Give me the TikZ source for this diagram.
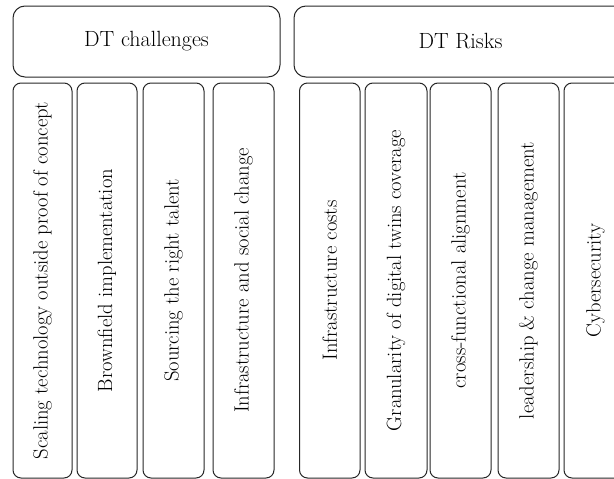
\documentclass[tikz,border=0pt]{standalone}
\begin{document}
\begin{tikzpicture}[x=1pt,y=-1pt,
  head/.style={draw=black!85, line width=1pt, rounded corners=12pt, inner sep=0pt,
    minimum height=71pt, text=black, font=\fontsize{22}{26}\selectfont},
  item/.style={draw=black!85, line width=1pt, rounded corners=8pt, inner sep=0pt,
    rotate=90, minimum width=395pt, text=black, font=\fontsize{20.6}{24}\selectfont}]
\useasboundingbox (0,0) rectangle (614,479);
\clip (0,0) rectangle (614,479);
\node[head, minimum width=267pt] (chal) at (146.5,41.5) {DT challenges};
\node[head, minimum width=333pt] (risk) at (460.5,41.5) {DT Risks};
\node[item, minimum height=59pt] (c1) at (42.5,280.5) {Scaling technology outside proof of concept};
\node[item, minimum height=60pt] (c2) at (107,280.5) {Brownfield implementation};
\node[item, minimum height=61pt] (c3) at (173.5,280.5) {Sourcing the right talent};
\node[item, minimum height=61pt] (c4) at (243.5,280.5) {Infrastructure and social change};
\node[item, minimum height=60.5pt] (r1) at (329.75,280.5) {Infrastructure costs};
\node[item, minimum height=62pt] (r2) at (396,280.5) {Granularity of digital twins coverage};
\node[item, minimum height=61pt] (r3) at (460.5,280.5) {cross-functional alignment};
\node[item, minimum height=61pt] (r4) at (528.5,280.5) {leadership \& change management};
\node[item, minimum height=63pt] (r5) at (595.5,280.5) {Cybersecurity};
\end{tikzpicture}
\end{document}
